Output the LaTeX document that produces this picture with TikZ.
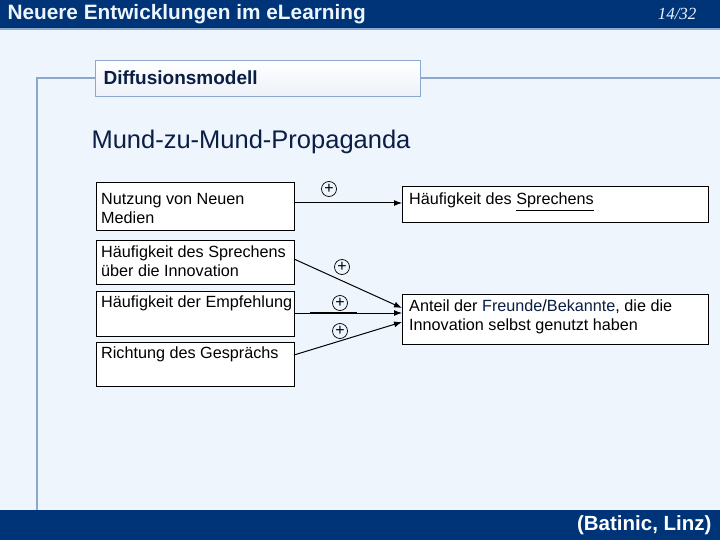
\documentclass[tikz,border=0pt]{standalone}
\usepackage{fontspec}
\setmainfont{Liberation Sans}
\newfontfamily\serifit{Liberation Serif}
\usetikzlibrary{arrows.meta}
\definecolor{bar}{HTML}{003478}
\definecolor{bg}{HTML}{EEF5FD}
\definecolor{frame}{HTML}{8CA8CC}
\definecolor{dtext}{HTML}{0A1E46}
\tikzset{
  box/.style={draw=black, fill=white, line width=0.6pt},
  btext/.style={anchor=north west, inner sep=0pt, align=left, font=\fontsize{16.2}{19}\selectfont},
  arr/.style={-{Latex[length=8pt,width=6pt]}, line width=1pt},
  plus/.style={circle, draw, inner sep=0pt, minimum size=15pt, font=\fontsize{16}{16}\selectfont, line width=0.7pt}
}
\begin{document}
\begin{tikzpicture}[x=1pt,y=-1pt]
\useasboundingbox (0,0) rectangle (720,540);
\fill[bg] (0,0) rectangle (720,540);
\fill[bar] (0,0) rectangle (720,28);
\draw[frame, line width=1.5pt] (0,29) -- (720,29);
\node[anchor=west, text=bg, font=\bfseries\fontsize{20.8}{20.8}\selectfont] (ht) at (4,14) {Neuere Entwicklungen im eLearning};
\node[anchor=east, text=bg, font=\serifit\itshape\fontsize{17}{17}\selectfont] (pg) at (700,14) {14/32};
\fill[bar] (0,510) rectangle (720,540);
\node[anchor=east, text=white, font=\bfseries\fontsize{20.5}{20.5}\selectfont] (src) at (715,525) {(Batinic, Linz)};
\draw[frame, line width=1.2pt] (37,510) -- (37,78) -- (95,78);
\draw[frame, line width=1.2pt] (420,78) -- (720,78);
\node[draw=frame, line width=1.2pt, top color=white, bottom color=bg!70!frame!40, minimum width=325pt, minimum height=36pt, anchor=north west, inner sep=0pt] (dm) at (95,60) {};
\node[anchor=west, text=dtext, font=\bfseries\fontsize{19}{19}\selectfont] (dmt) at (100,78) {Diffusionsmodell};
\node[anchor=west, text=dtext, font=\fontsize{25.5}{25.5}\selectfont] (mm) at (88,142) {Mund-zu-Mund-Propaganda};

\draw[box] (96,182) rectangle (294,230);
\draw[box] (96,240) rectangle (294,284);
\draw[box] (96,291) rectangle (294,336);
\draw[box] (96,342) rectangle (294,386);
\draw[box] (402,186) rectangle (708,222);
\draw[box] (402,294) rectangle (708,344);
\node[btext] (b1) at (101,193) {Nutzung von Neuen\\Medien};
\node[btext] (b2) at (101,246) {Häufigkeit des Sprechens\\über die Innovation};
\node[btext] (b3) at (101,296) {Häufigkeit der Empfehlung};
\node[btext] (b4) at (101,347) {Richtung des Gesprächs};
\node[btext] (r1) at (409,193) {Häufigkeit des \underline{Sprechens}};
\node[btext] (r2) at (409,300) {Anteil der \textcolor{dtext}{Freunde}/\textcolor{dtext}{Bekannte}, die die\\Innovation selbst genutzt haben};

\coordinate (a1s) at (294,203); \coordinate (a1e) at (402,203);
\coordinate (a2s) at (294,259); \coordinate (a2e) at (402,308);
\coordinate (a3s) at (294,313); \coordinate (a3e) at (402,313);
\coordinate (a4s) at (294,355); \coordinate (a4e) at (402,322);
\draw[arr] (a1s) -- (a1e);
\draw[arr] (a2s) -- (a2e);
\draw[arr] (a3s) -- (a3e);
\draw[arr] (a4s) -- (a4e);
\coordinate (t1) at (310,312.5); \coordinate (t2) at (357,312.5);
\draw[line width=1.6pt] (t1) -- (t2);
\node[plus] (p1) at (329,189) {+};
\node[plus] (p2) at (342,267) {+};
\node[plus] (p3) at (340,303) {+};
\node[plus] (p4) at (340,331) {+};
\end{tikzpicture}
\end{document}
